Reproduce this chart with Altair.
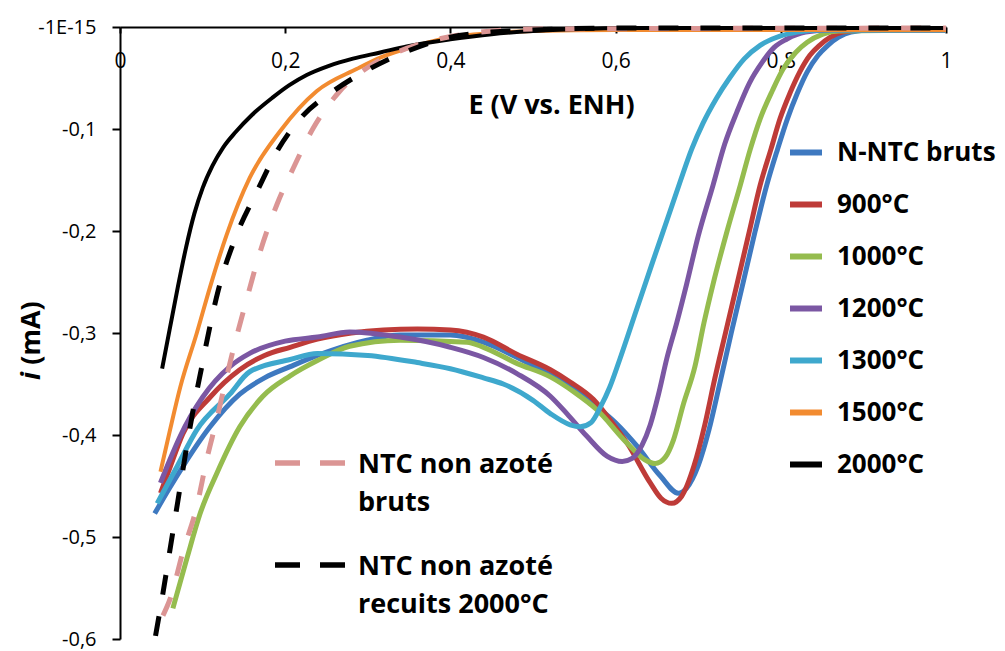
import altair as alt
import pandas as pd

# ---------------- data ----------------
series_names = ["N-NTC bruts", "900°C", "1000°C", "1200°C", "1300°C", "1500°C", "2000°C"]
series_colors = ["#3E79C0", "#BE3B38", "#95BC4E", "#7B57A3", "#3EA8CD", "#F28B30", "#000000"]

x_bruts = [0.042, 0.06, 0.076, 0.109, 0.145, 0.175, 0.206, 0.239, 0.299, 0.339, 0.40, 0.44, 0.481, 0.521, 0.55, 0.577, 0.60, 0.626, 0.654, 0.676, 0.686, 0.70, 0.713, 0.726, 0.74, 0.754, 0.769, 0.783, 0.796, 0.808, 0.82, 0.832, 0.845, 0.857, 0.87, 0.885, 0.91, 1.0]
y_bruts = [-0.477, -0.452, -0.431, -0.392, -0.360, -0.344, -0.333, -0.322, -0.307, -0.302, -0.302, -0.309, -0.324, -0.341, -0.355, -0.372, -0.388, -0.411, -0.440, -0.457, -0.452, -0.430, -0.395, -0.350, -0.300, -0.252, -0.200, -0.155, -0.120, -0.090, -0.065, -0.044, -0.028, -0.018, -0.010, -0.005, -0.003, -0.003]

x_900 = [0.049, 0.06, 0.076, 0.109, 0.145, 0.175, 0.206, 0.239, 0.28, 0.319, 0.36, 0.40, 0.44, 0.481, 0.521, 0.545, 0.573, 0.595, 0.614, 0.642, 0.655, 0.668, 0.68, 0.695, 0.708, 0.72, 0.733, 0.747, 0.762, 0.775, 0.788, 0.799, 0.811, 0.823, 0.835, 0.847, 0.86, 0.875, 0.9, 1.0]
y_900 = [-0.457, -0.433, -0.399, -0.363, -0.336, -0.322, -0.314, -0.306, -0.300, -0.297, -0.296, -0.297, -0.304, -0.321, -0.336, -0.348, -0.365, -0.387, -0.408, -0.447, -0.462, -0.467, -0.460, -0.430, -0.390, -0.345, -0.300, -0.252, -0.200, -0.155, -0.120, -0.090, -0.065, -0.044, -0.028, -0.018, -0.010, -0.005, -0.003, -0.003]

x_1000 = [0.064, 0.081, 0.097, 0.117, 0.145, 0.173, 0.206, 0.239, 0.278, 0.339, 0.42, 0.44, 0.481, 0.521, 0.55, 0.577, 0.614, 0.635, 0.648, 0.66, 0.67, 0.682, 0.696, 0.707, 0.718, 0.735, 0.751, 0.763, 0.775, 0.79, 0.803, 0.818, 0.832, 0.851, 0.87, 1.0]
y_1000 = [-0.570, -0.521, -0.477, -0.438, -0.392, -0.362, -0.342, -0.327, -0.313, -0.307, -0.309, -0.314, -0.330, -0.343, -0.358, -0.375, -0.408, -0.424, -0.428, -0.422, -0.405, -0.370, -0.333, -0.290, -0.252, -0.200, -0.155, -0.120, -0.090, -0.062, -0.041, -0.025, -0.015, -0.007, -0.004, -0.003]

x_1200 = [0.049, 0.06, 0.073, 0.10, 0.133, 0.157, 0.20, 0.239, 0.278, 0.339, 0.40, 0.44, 0.481, 0.521, 0.541, 0.565, 0.59, 0.608, 0.62, 0.632, 0.642, 0.652, 0.662, 0.674, 0.686, 0.70, 0.718, 0.732, 0.747, 0.762, 0.778, 0.792, 0.807, 0.83, 0.86, 1.0]
y_1200 = [-0.447, -0.425, -0.401, -0.363, -0.333, -0.320, -0.308, -0.304, -0.299, -0.304, -0.314, -0.324, -0.340, -0.362, -0.379, -0.401, -0.421, -0.426, -0.423, -0.410, -0.390, -0.360, -0.325, -0.290, -0.252, -0.205, -0.155, -0.115, -0.083, -0.055, -0.034, -0.020, -0.012, -0.005, -0.003, -0.003]

x_1300 = [0.045, 0.057, 0.069, 0.093, 0.133, 0.157, 0.206, 0.239, 0.30, 0.36, 0.40, 0.44, 0.464, 0.50, 0.521, 0.545, 0.557, 0.57, 0.582, 0.593, 0.605, 0.625, 0.645, 0.662, 0.678, 0.692, 0.706, 0.722, 0.738, 0.756, 0.775, 0.799, 0.82, 0.85, 1.0]
y_1300 = [-0.467, -0.449, -0.431, -0.395, -0.360, -0.338, -0.326, -0.320, -0.322, -0.329, -0.335, -0.344, -0.350, -0.366, -0.379, -0.390, -0.392, -0.388, -0.372, -0.353, -0.326, -0.278, -0.230, -0.190, -0.152, -0.120, -0.094, -0.070, -0.050, -0.031, -0.018, -0.009, -0.005, -0.003, -0.003]

x_1500 = [0.049, 0.06, 0.073, 0.093, 0.109, 0.129, 0.157, 0.194, 0.238, 0.287, 0.315, 0.36, 0.40, 0.45, 0.50, 0.60, 1.0]
y_1500 = [-0.436, -0.397, -0.353, -0.300, -0.255, -0.204, -0.148, -0.102, -0.063, -0.041, -0.030, -0.018, -0.010, -0.006, -0.004, -0.003, -0.003]

x_2000 = [0.051, 0.060, 0.070, 0.080, 0.090, 0.100, 0.112, 0.125, 0.140, 0.160, 0.185, 0.205, 0.226, 0.253, 0.282, 0.315, 0.347, 0.40, 0.45, 0.50, 0.557, 0.60, 1.0]
y_2000 = [-0.335, -0.297, -0.255, -0.216, -0.183, -0.158, -0.136, -0.118, -0.103, -0.086, -0.069, -0.057, -0.047, -0.038, -0.031, -0.025, -0.019, -0.012, -0.007, -0.004, -0.002, -0.001, -0.001]

dash_names = ["NTC non azoté\nbruts", "NTC non azoté\nrecuits 2000°C"]
dash_colors = ["#DB9594", "#000000"]

x_ntc_bruts = [0.052, 0.061, 0.076, 0.093, 0.105, 0.117, 0.129, 0.141, 0.154, 0.169, 0.19, 0.21, 0.234, 0.266, 0.303, 0.347, 0.396, 0.45, 0.50, 1.0]
y_ntc_bruts = [-0.577, -0.560, -0.515, -0.470, -0.424, -0.385, -0.343, -0.304, -0.265, -0.222, -0.174, -0.138, -0.099, -0.063, -0.038, -0.021, -0.010, -0.004, -0.002, -0.001]

x_ntc_2000 = [0.043, 0.052, 0.060, 0.070, 0.079, 0.088, 0.099, 0.109, 0.119, 0.141, 0.166, 0.19, 0.218, 0.258, 0.30, 0.347, 0.40, 0.45, 0.50, 0.60, 1.0]
y_ntc_2000 = [-0.597, -0.555, -0.515, -0.465, -0.420, -0.378, -0.333, -0.293, -0.258, -0.204, -0.161, -0.122, -0.090, -0.063, -0.042, -0.024, -0.010, -0.005, -0.003, -0.001, -0.001]

x_ticks = [0, 0.2, 0.4, 0.6, 0.8, 1.0]
y_ticks = [-0.6, -0.5, -0.4, -0.3, -0.2, -0.1, 0.0]
y_title_italic = "i"
y_title_rest = "(mA)"

# ---------------- tables ----------------
def frame(name, xs, ys):
    return pd.DataFrame({"E": xs, "i": ys, "serie": name})

thick = pd.concat([
    frame(series_names[0], x_bruts, y_bruts),
    frame(series_names[1], x_900, y_900),
    frame(series_names[2], x_1000, y_1000),
    frame(series_names[3], x_1200, y_1200),
    frame(series_names[4], x_1300, y_1300),
])
thin = pd.concat([
    frame(series_names[5], x_1500, y_1500),
    frame(series_names[6], x_2000, y_2000),
])
pink = frame(dash_names[0], x_ntc_bruts, y_ntc_bruts)
blackd = frame(dash_names[1], x_ntc_2000, y_ntc_2000)

W, H = 826, 612
FONT = "Open Sans"

x_enc = alt.X(
    "E:Q",
    scale=alt.Scale(domain=[0, 1], nice=False, zero=False),
    axis=alt.Axis(
        orient="bottom", offset=-H, values=x_ticks,
        labelExpr="replace(format(datum.value, '.1~f'), '.', ',')",
        labelFlush=False, labelOverlap=False,
        tickSize=6, labelPadding=17, labelFontSize=21, labelFont=FONT,
        title="E (V vs. ENH)", titleFont=FONT, titleFontSize=27, titleFontWeight="bold",
        titleX=431, titleY=78, titleAlign="center", titleBaseline="middle",
        grid=False,
    ),
)
y_enc = alt.Y(
    "i:Q",
    scale=alt.Scale(domain=[-0.6, 0], nice=False, zero=False),
    axis=alt.Axis(
        values=y_ticks,
        labelExpr="datum.value == 0 ? '-1E-15' : '-' + replace(format(abs(datum.value), '.1f'), '.', ',')",
        labelFlush=False, labelOverlap=False,
        tickSize=8, labelPadding=16, labelFontSize=20, labelFont=FONT,
        title=None, grid=False,
    ),
)

legend = alt.Legend(
    title=None, orient="none", legendX=667, legendY=106.5,
    symbolType="stroke", symbolSize=1024, symbolStrokeWidth=6,
    labelFont=FONT, labelFontSize=26, labelFontWeight="bold", labelColor="black",
    labelOffset=12, rowPadding=20.0, padding=0, labelLimit=400,
)
color_enc = alt.Color("serie:N", scale=alt.Scale(domain=series_names, range=series_colors), legend=legend)

l_thick = alt.Chart(thick).mark_line(interpolate="monotone", strokeWidth=5).encode(x=x_enc, y=y_enc, color=color_enc)
l_thin = alt.Chart(thin).mark_line(interpolate="monotone", strokeWidth=4).encode(x=x_enc, y=y_enc, color=color_enc)
l_pink = alt.Chart(pink).mark_line(interpolate="monotone", strokeWidth=5, strokeDash=[20, 22], color=dash_colors[0]).encode(x="E:Q", y="i:Q")
l_blackd = alt.Chart(blackd).mark_line(interpolate="monotone", strokeWidth=5, strokeDash=[20, 22], color=dash_colors[1]).encode(x="E:Q", y="i:Q")

# legend of the dashed series (inside the plot)
leg_pink = pd.DataFrame({"label": [dash_names[0]]})
leg_black = pd.DataFrame({"label": [dash_names[1]]})

def dash_key(df, color, ypix):
    rule = alt.Chart(df).mark_rule(strokeWidth=5.5, strokeDash=[25, 20], color=color).encode(
        x=alt.value(155), x2=alt.value(225), y=alt.value(ypix))
    txt = alt.Chart(df).mark_text(
        align="left", baseline="alphabetic", lineBreak="\n", lineHeight=38,
        font=FONT, fontSize=27, fontWeight="bold", color="black",
    ).encode(x=alt.value(238), y=alt.value(ypix + 10), text="label:N")
    return rule + txt

# y axis title: italic "i" followed by "(mA)"
t_i = alt.Chart(pd.DataFrame({"t": [y_title_italic]})).mark_text(
    angle=270, align="center", baseline="middle", font=FONT, fontSize=27,
    fontWeight="bold", fontStyle="italic", color="black",
).encode(x=alt.value(-88), y=alt.value(349), text="t:N")
t_ma = alt.Chart(pd.DataFrame({"t": [y_title_rest]})).mark_text(
    angle=270, align="center", baseline="middle", font=FONT, fontSize=27,
    fontWeight="bold", color="black",
).encode(x=alt.value(-88), y=alt.value(306), text="t:N")

chart = alt.layer(
    l_thick, l_thin, l_pink, l_blackd,
    dash_key(leg_pink, dash_colors[0], 436),
    dash_key(leg_black, dash_colors[1], 538),
    t_i, t_ma,
).properties(
    width=W, height=H,
    autosize=alt.AutoSizeParams(type="none"),
    padding={"left": 112, "top": 19, "right": 51, "bottom": 12},
    background="white",
).configure_view(stroke=None).configure_axis(
    domainColor="black", domainWidth=2, tickColor="black", tickWidth=2,
    labelColor="black", titleColor="black",
)

chart.save("out.html", embed_options={"renderer": "svg", "actions": False})
